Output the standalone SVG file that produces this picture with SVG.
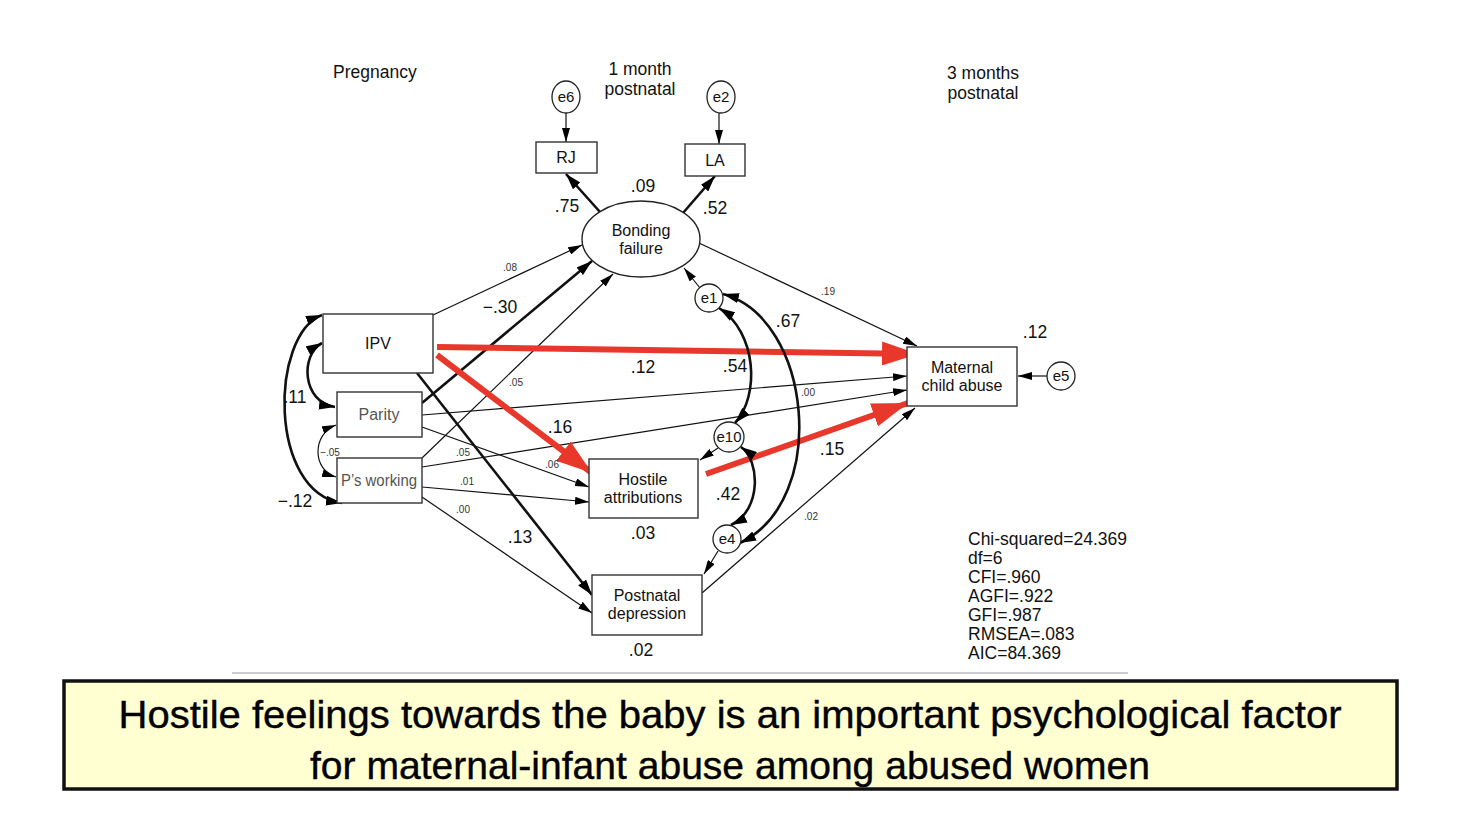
<svg xmlns="http://www.w3.org/2000/svg" width="1466" height="826" viewBox="0 0 1466 826">
<defs>
<marker id="a" viewBox="0 0 14 8" refX="14" refY="4" markerWidth="14" markerHeight="8" markerUnits="userSpaceOnUse" orient="auto-start-reverse"><path d="M0,0 L14,4 L0,8 z" fill="#000"/></marker>
<marker id="ab" viewBox="0 0 16 10" refX="16" refY="5" markerWidth="16" markerHeight="10" markerUnits="userSpaceOnUse" orient="auto-start-reverse"><path d="M0,0 L16,5 L0,10 z" fill="#000"/></marker>
<marker id="ar" viewBox="0 0 36 24" refX="36" refY="12" markerWidth="36" markerHeight="24" markerUnits="userSpaceOnUse" orient="auto"><path d="M0,0 L36,12 L0,24 z" fill="#e8372b"/></marker>
</defs>
<style>
text{font-family:"Liberation Sans",Arial,sans-serif;fill:#111}
.hd{font-size:17.5px}
.nd{font-size:16px;text-anchor:middle}
.ee{font-size:15px;text-anchor:middle}
.gr{fill:#555}
.big{font-size:17.5px;text-anchor:middle}
.sm{font-size:10px;text-anchor:middle;fill:#333}
.st{font-size:17.5px}
.box{fill:#fff;stroke:#333;stroke-width:1.4}
.thin{fill:none;stroke:#111;stroke-width:1.2}
.thick{fill:none;stroke:#111;stroke-width:2.6}
.red{fill:none;stroke:#e8372b;stroke-width:6}
.cap{font-size:39px;text-anchor:middle;fill:#000;stroke:#000;stroke-width:0.4}
</style>
<rect width="1466" height="826" fill="#fff"/>

<g id="headers">
<text class="hd" x="333" y="78">Pregnancy</text>
<text class="hd" x="640" y="75" text-anchor="middle">1 month</text>
<text class="hd" x="640" y="95" text-anchor="middle">postnatal</text>
<text class="hd" x="983" y="79" text-anchor="middle">3 months</text>
<text class="hd" x="983" y="99" text-anchor="middle">postnatal</text>
</g>

<g id="connectors">
<line class="thin" x1="566" y1="113" x2="566" y2="142" marker-end="url(#a)"/>
<line class="thin" x1="719" y1="113" x2="719" y2="144" marker-end="url(#a)"/>
<line class="thick" x1="600" y1="212" x2="566" y2="174" marker-end="url(#ab)"/>
<line class="thick" x1="683" y1="213" x2="715" y2="176" marker-end="url(#ab)"/>
<line class="thin" x1="433" y1="315" x2="582" y2="245" marker-end="url(#a)"/>
<line class="thick" x1="422" y1="403" x2="592" y2="261" marker-end="url(#ab)"/>
<line class="thin" x1="422" y1="458" x2="613" y2="274" marker-end="url(#a)"/>
<line class="thin" x1="699" y1="243" x2="917" y2="346" marker-end="url(#a)"/>
<line class="thin" x1="422" y1="415" x2="907" y2="376" marker-end="url(#a)"/>
<line class="thin" x1="422" y1="467" x2="907" y2="390" marker-end="url(#a)"/>
<line class="thin" x1="702" y1="593" x2="915" y2="408" marker-end="url(#a)"/>
<line class="thin" x1="422" y1="427" x2="589" y2="487" marker-end="url(#a)"/>
<line class="thin" x1="422" y1="487" x2="589" y2="502" marker-end="url(#a)"/>
<line class="thick" x1="417" y1="373" x2="592" y2="595" marker-end="url(#ab)"/>
<line class="thin" x1="422" y1="497" x2="592" y2="613" marker-end="url(#a)"/>
<line class="red" x1="437" y1="347" x2="918" y2="354" marker-end="url(#ar)"/>
<line class="red" x1="437" y1="355" x2="592" y2="473" marker-end="url(#ar)"/>
<line class="red" x1="706" y1="474" x2="908" y2="403" marker-end="url(#ar)"/>
<line class="thin" x1="1047" y1="376" x2="1018" y2="376" marker-end="url(#a)"/>
<line class="thin" x1="700" y1="288" x2="684" y2="268" marker-end="url(#a)"/>
<line class="thin" x1="718" y1="448" x2="700" y2="460" marker-end="url(#a)"/>
<line class="thin" x1="718" y1="551" x2="704" y2="574" marker-end="url(#a)"/>
<path class="thick" d="M322,343 C300,355 302,402 335,407" marker-start="url(#ab)" marker-end="url(#ab)"/>
<path class="thick" d="M322,315 C270,335 268,492 342,503" marker-start="url(#ab)" marker-end="url(#ab)"/>
<path class="thin" d="M336,425 C312,434 312,470 336,477" marker-start="url(#a)" marker-end="url(#a)"/>
<path class="thick" d="M719,308 C757,332 760,396 735,423" marker-start="url(#ab)" marker-end="url(#ab)"/>
<path class="thick" d="M723,294 C812,318 830,500 740,543" marker-start="url(#ab)" marker-end="url(#ab)"/>
<path class="thick" d="M741,447 C760,460 762,510 731,525" marker-start="url(#ab)" marker-end="url(#ab)"/>
</g>

<g id="labels">
<text class="big" x="643" y="192">.09</text>
<text class="big" x="567" y="212">.75</text>
<text class="big" x="715" y="214">.52</text>
<text class="sm" x="510" y="271">.08</text>
<text class="big" x="500" y="313">−.30</text>
<text class="sm" x="516" y="386">.05</text>
<text class="sm" x="828" y="295">.19</text>
<text class="big" x="643" y="373">.12</text>
<text class="big" x="735" y="372">.54</text>
<text class="big" x="788" y="327">.67</text>
<text class="sm" x="808" y="396">.00</text>
<text class="big" x="560" y="433">.16</text>
<text class="sm" x="463" y="456">.05</text>
<text class="sm" x="552" y="468">.06</text>
<text class="sm" x="467" y="485">.01</text>
<text class="sm" x="463" y="513">.00</text>
<text class="big" x="520" y="543">.13</text>
<text class="big" x="832" y="455">.15</text>
<text class="big" x="728" y="500">.42</text>
<text class="sm" x="811" y="520">.02</text>
<text class="big" x="643" y="539">.03</text>
<text class="big" x="641" y="656">.02</text>
<text class="big" x="1035" y="338">.12</text>
<text class="big" x="295" y="403">.11</text>
<text class="big" x="295" y="507">−.12</text>
<text class="sm" x="330" y="456">−.05</text>
</g>

<g id="e6"><ellipse cx="566" cy="97" rx="14" ry="16" fill="#fff" stroke="#222" stroke-width="1.3"/><text class="ee" x="566" y="102">e6</text></g>
<g id="e2"><ellipse cx="721" cy="97" rx="14" ry="16" fill="#fff" stroke="#222" stroke-width="1.3"/><text class="ee" x="721" y="102">e2</text></g>
<g id="RJ"><rect class="box" x="536" y="142" width="61" height="31"/><text class="nd" x="566" y="163">RJ</text></g>
<g id="LA"><rect class="box" x="685" y="144" width="60" height="32"/><text class="nd" x="715" y="166">LA</text></g>
<g id="bonding"><ellipse cx="641" cy="239" rx="59" ry="38" fill="#fff" stroke="#222" stroke-width="1.4"/><text class="nd" x="641" y="236">Bonding</text><text class="nd" x="641" y="254">failure</text></g>
<g id="IPV"><rect class="box" x="323" y="314" width="110" height="59"/><text class="nd" x="378" y="349">IPV</text></g>
<g id="parity"><rect class="box" x="337" y="392" width="85" height="45"/><text class="nd gr" x="379" y="420">Parity</text></g>
<g id="working"><rect class="box" x="337" y="458" width="85" height="45"/><text class="nd gr" x="379" y="486" textLength="76" lengthAdjust="spacingAndGlyphs">P’s working</text></g>
<g id="hostile"><rect class="box" x="589" y="459" width="109" height="59"/><text class="nd" x="643" y="485">Hostile</text><text class="nd" x="643" y="503">attributions</text></g>
<g id="postnatal"><rect class="box" x="592" y="575" width="110" height="60"/><text class="nd" x="647" y="601">Postnatal</text><text class="nd" x="647" y="619">depression</text></g>
<g id="maternal"><rect class="box" x="907" y="347" width="110" height="59"/><text class="nd" x="962" y="373">Maternal</text><text class="nd" x="962" y="391">child abuse</text></g>
<g id="e5"><circle cx="1061" cy="376" r="14" fill="#fff" stroke="#222" stroke-width="1.3"/><text class="ee" x="1061" y="381">e5</text></g>
<g id="e1"><circle cx="709" cy="298" r="14" fill="#fff" stroke="#222" stroke-width="1.3"/><text class="ee" x="709" y="303">e1</text></g>
<g id="e10"><circle cx="729" cy="437" r="15" fill="#fff" stroke="#222" stroke-width="1.3"/><text class="ee" x="729" y="442">e10</text></g>
<g id="e4"><circle cx="727" cy="539" r="14" fill="#fff" stroke="#222" stroke-width="1.3"/><text class="ee" x="727" y="544">e4</text></g>

<g id="stats">
<text class="st" x="968" y="545">Chi-squared=24.369</text>
<text class="st" x="968" y="564">df=6</text>
<text class="st" x="968" y="583">CFI=.960</text>
<text class="st" x="968" y="602">AGFI=.922</text>
<text class="st" x="968" y="621">GFI=.987</text>
<text class="st" x="968" y="640">RMSEA=.083</text>
<text class="st" x="968" y="659">AIC=84.369</text>
</g>

<line x1="232" y1="673" x2="1128" y2="673" stroke="#bbb" stroke-width="1.5"/>

<g id="caption">
<rect x="64" y="681" width="1333" height="108" fill="#ffffd2" stroke="#111" stroke-width="3.5"/>
<text class="cap" x="730" y="728" textLength="1223" lengthAdjust="spacingAndGlyphs">Hostile feelings towards the baby is an important psychological factor</text>
<text class="cap" x="730" y="779" textLength="840" lengthAdjust="spacingAndGlyphs">for maternal-infant abuse among abused women</text>
</g>
</svg>
